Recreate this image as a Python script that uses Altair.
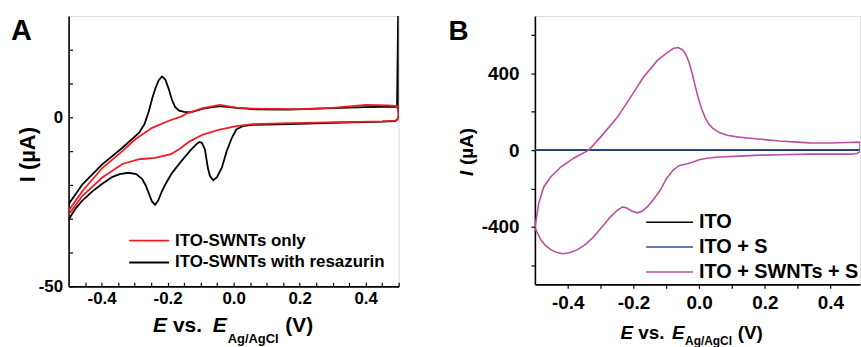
import altair as alt
import pandas as pd

FONT = "Liberation Sans"

# ---------------- Panel A data (E in V, I in uA), loop in sweep order ----------------
a_series = ["ITO-SWNTs only", "ITO-SWNTs with resazurin"]
a_colors = ["#ee1c24", "#000000"]

a_black_E = [-0.5, -0.458, -0.398, -0.337, -0.287, -0.27, -0.257, -0.247, -0.237, -0.227,
             -0.217, -0.207, -0.197, -0.187, -0.177, -0.165, -0.15, -0.13, -0.093, -0.042,
             0.008, 0.058, 0.17, 0.3, 0.4, 0.495, 0.5, 0.5, 0.497, 0.49,
             0.45, 0.3, 0.169, 0.058, 0.027, 0.008, -0.006, -0.021, -0.036, -0.051,
             -0.062, -0.072, -0.078, -0.087, -0.096, -0.103, -0.111, -0.133, -0.163, -0.187,
             -0.205, -0.217, -0.228, -0.238, -0.248, -0.256, -0.267, -0.277, -0.295, -0.319,
             -0.345, -0.367, -0.4, -0.428, -0.46, -0.479, -0.5]
a_black_I = [-25.7, -19.8, -13.9, -9.0, -4.6, -2.0, 1.8, 5.5, 8.6, 11.0,
             12.1, 11.2, 8.5, 5.2, 3.0, 2.0, 1.6, 1.5, 2.6, 3.3,
             2.8, 2.4, 2.3, 2.7, 3.0, 3.2, 45.0, 0.5, -0.5, -1.1,
             -1.3, -1.6, -2.0, -2.2, -2.6, -3.6, -6.2, -10.0, -15.0, -17.8,
             -18.6, -17.3, -15.0, -9.5, -7.6, -7.3, -7.8, -10.0, -13.5, -16.5,
             -19.5, -21.8, -24.5, -25.9, -24.8, -22.7, -20.0, -18.3, -16.8, -16.4,
             -16.8, -17.6, -19.8, -21.9, -24.8, -27.0, -30.3]

a_red_E = [-0.5, -0.458, -0.398, -0.337, -0.298, -0.247, -0.196, -0.157, -0.142, -0.093,
           -0.042, 0.008, 0.058, 0.2, 0.3, 0.4, 0.47, 0.495, 0.5, 0.497,
           0.49, 0.45, 0.3, 0.169, 0.058, 0.008, -0.042, -0.093, -0.133, -0.163,
           -0.19, -0.238, -0.286, -0.337, -0.398, -0.458, -0.5]
a_red_I = [-27.6, -21.8, -15.0, -10.0, -6.5, -3.1, -1.0, 0.3, 1.2, 2.7,
           3.7, 2.9, 2.6, 2.4, 2.8, 3.7, 3.5, 3.3, 1.0, -0.6,
           -1.0, -1.2, -1.5, -1.7, -2.0, -2.6, -3.6, -5.1, -7.1, -9.3,
           -10.9, -12.0, -12.4, -13.8, -17.8, -23.2, -28.8]

# ---------------- Panel B data ----------------
b_series = ["ITO", "ITO + S", "ITO + SWNTs + S"]
b_colors = ["#000000", "#2f4a9a", "#b8509f"]

b_ito_E = [-0.5, 0.0, 0.49]
b_ito_I = [0, 0, 0]
b_itos_E = [-0.5, 0.0, 0.49]
b_itos_I = [1, 1, 1]

b_swnt_E = [-0.5, -0.488, -0.473, -0.452, -0.421, -0.382, -0.336, -0.3, -0.249, -0.209,
            -0.17, -0.127, -0.1, -0.079, -0.064, -0.052, -0.042, -0.031, -0.021, -0.012,
            -0.003, 0.008, 0.018, 0.03, 0.042, 0.06, 0.085, 0.12, 0.155, 0.2,
            0.245, 0.3, 0.336, 0.4, 0.45, 0.49, 0.49, 0.48, 0.467, 0.336,
            0.245, 0.185, 0.124, 0.06, 0.024, 0.0, -0.018, -0.038, -0.06, -0.079,
            -0.1, -0.118, -0.14, -0.158, -0.175, -0.188, -0.205, -0.22, -0.233, -0.25,
            -0.27, -0.295, -0.321, -0.345, -0.37, -0.395, -0.415, -0.435, -0.452, -0.468,
            -0.482, -0.5]
b_swnt_I = [-405, -275, -192, -140, -88, -42, 0, 68, 171, 275,
            379, 468, 505, 530, 535, 525, 504, 460, 400, 335,
            275, 215, 171, 135, 114, 93, 78, 68, 62, 55,
            48, 42, 38, 37, 40, 42, -8, -18, -21, -21,
            -24, -26, -31, -36, -42, -50, -62, -72, -80, -104,
            -150, -208, -260, -296, -320, -327, -318, -302, -296, -315,
            -348, -400, -452, -490, -519, -535, -540, -533, -519, -497,
            -468, -405]

# ---------------- ticks ----------------
a_xticks = [-0.45, -0.4, -0.35, -0.3, -0.25, -0.2, -0.15, -0.1, -0.05, 0.0,
            0.05, 0.1, 0.15, 0.2, 0.25, 0.3, 0.35, 0.4, 0.45, 0.5]
a_yticks = [-50, -40, -30, -20, -10, 0, 10, 20]
b_xticks = [-0.4, -0.3, -0.2, -0.1, 0.0, 0.1, 0.2, 0.3, 0.4]
b_yticks = [-600, -400, -200, 0, 200, 400, 600]


def frame(E, I, name):
    return pd.DataFrame({"E": E, "I": I, "series": name, "idx": list(range(len(E)))})


NUM_LABEL = "(datum.value < -0.0001 ? '-' : '') + format(abs(datum.value), '.1f')"


def axis_common(**kw):
    base = dict(domainColor="black", domainWidth=1.6, tickColor="black", tickWidth=1.2,
                labelFont=FONT, labelFontWeight="bold", labelColor="black", grid=False,
                labelFlush=False, labelOverlap=False)
    base.update(kw)
    return alt.Axis(**base)


def text_layer(txt, x, y, size, italic=False, angle=None):
    kw = dict(font=FONT, fontSize=size, fontWeight="bold", align="left",
              baseline="alphabetic", color="black")
    if italic:
        kw["fontStyle"] = "italic"
    if angle is not None:
        kw["angle"] = angle
    return alt.Chart(pd.DataFrame({"t": [txt]})).mark_text(**kw).encode(
        x=alt.value(x), y=alt.value(y), text="t:N")


# ---------------- Panel A ----------------
a_x = alt.X("E:Q", scale=alt.Scale(domain=[-0.5, 0.5], nice=False, zero=False),
            axis=axis_common(values=a_xticks, tickSize=alt.ExprRef(expr="-4"), labelPadding=8,
                             labelFontSize=17,
                             labelExpr="abs(datum.value*5 - round(datum.value*5)) < 0.001 ? " + NUM_LABEL + " : ''",
                             title=None))
a_y = alt.Y("I:Q", scale=alt.Scale(domain=[-50, 30], nice=False, zero=False),
            axis=axis_common(values=a_yticks, tickSize=alt.ExprRef(expr="-4"), labelPadding=10,
                             labelFontSize=17,
                             labelExpr="(datum.value == 0 || datum.value == -50) ? (datum.value < 0 ? '-' : '') + format(abs(datum.value), 'd') : ''",
                             title="I (\u00b5A)", titleFont=FONT, titleFontSize=22, titleFontWeight="bold",
                             titleColor="black", titleAngle=270, titleX=-34, titleY=139,
                             titleBaseline="alphabetic", titleAlign="center"))
a_color = alt.Color("series:N", scale=alt.Scale(domain=a_series, range=a_colors),
                    legend=alt.Legend(title=None, orient="none", legendX=60, legendY=215,
                                      symbolType="stroke", symbolSize=1600, symbolStrokeWidth=1.8,
                                      clipHeight=22,
                                      labelFont=FONT, labelFontSize=17, labelFontWeight="bold",
                                      labelColor="black", labelOffset=5, labelLimit=400,
                                      rowPadding=0, padding=0, offset=0))

a_lines = [
    alt.Chart(frame(a_black_E, a_black_I, a_series[1])).mark_line(strokeWidth=1.8, clip=True)
    .encode(x=a_x, y=a_y, color=a_color, order="idx:Q"),
    alt.Chart(frame(a_red_E, a_red_I, a_series[0])).mark_line(strokeWidth=1.8, clip=True)
    .encode(x=a_x, y=a_y, color=a_color, order="idx:Q"),
]
a_text = [
    text_layer("A", -58, 24, 29),
    text_layer("E", 85, 318, 21, italic=True),
    text_layer("vs.", 105, 318, 21),
    text_layer("E", 145, 318, 21, italic=True),
    text_layer("Ag/AgCl", 160, 329, 13),
    text_layer("(V)", 218, 318, 21),
]
panel_a = alt.layer(*a_lines, *a_text).properties(width=332, height=272)

# ---------------- Panel B ----------------
b_x = alt.X("E:Q", scale=alt.Scale(domain=[-0.5, 0.49], nice=False, zero=False),
            axis=axis_common(values=b_xticks, tickSize=4, labelPadding=5, labelFontSize=19,
                             labelExpr="abs(datum.value*5 - round(datum.value*5)) < 0.001 ? " + NUM_LABEL + " : ''",
                             title=None))
b_y = alt.Y("I:Q", scale=alt.Scale(domain=[-700, 700], nice=False, zero=False),
            axis=axis_common(values=b_yticks, tickSize=4, labelPadding=12, labelFontSize=19,
                             labelExpr="datum.value % 400 == 0 ? (datum.value < 0 ? '-' : '') + format(abs(datum.value), 'd') : ''",
                             title=None))
b_color = alt.Color("series:N", scale=alt.Scale(domain=b_series, range=b_colors),
                    legend=alt.Legend(title=None, orient="none", legendX=111, legendY=195,
                                      symbolType="stroke", symbolSize=2209, symbolStrokeWidth=1.6,
                                      clipHeight=25,
                                      labelFont=FONT, labelFontSize=20, labelFontWeight="bold",
                                      labelColor="black", labelOffset=5, labelLimit=400,
                                      rowPadding=0, padding=0, offset=0))
b_lines = [
    alt.Chart(frame(b_ito_E, b_ito_I, b_series[0])).mark_line(strokeWidth=1.6, clip=True)
    .encode(x=b_x, y=b_y, color=b_color, order="idx:Q"),
    alt.Chart(frame(b_itos_E, b_itos_I, b_series[1])).mark_line(strokeWidth=1.8, clip=True)
    .encode(x=b_x, y=b_y, color=b_color, order="idx:Q"),
    alt.Chart(frame(b_swnt_E, b_swnt_I, b_series[2])).mark_line(strokeWidth=1.6, clip=True)
    .encode(x=b_x, y=b_y, color=b_color, order="idx:Q"),
]
b_text = [
    text_layer("B", -87, 24, 28),
    text_layer("I", -62, 161, 19, italic=True, angle=270),
    text_layer("(\u00b5A)", -62, 150, 19, angle=270),
    text_layer("E", 86, 325, 19, italic=True),
    text_layer("vs.", 104, 325, 19),
    text_layer("E", 138, 325, 19, italic=True),
    text_layer("Ag/AgCl", 151, 331, 12),
    text_layer("(V)", 204, 325, 19),
]
panel_b = alt.layer(*b_lines, *b_text).properties(width=327, height=270)

chart = (alt.hconcat(panel_a, panel_b, spacing=47)
         .resolve_scale(color="independent")
         .resolve_legend(color="independent")
         .properties(padding={"left": 10, "top": 14, "right": 0, "bottom": 0})
         .configure_view(stroke=None)
         .configure(font=FONT))

chart.save("out.html", embed_options={"renderer": "svg", "actions": False})
